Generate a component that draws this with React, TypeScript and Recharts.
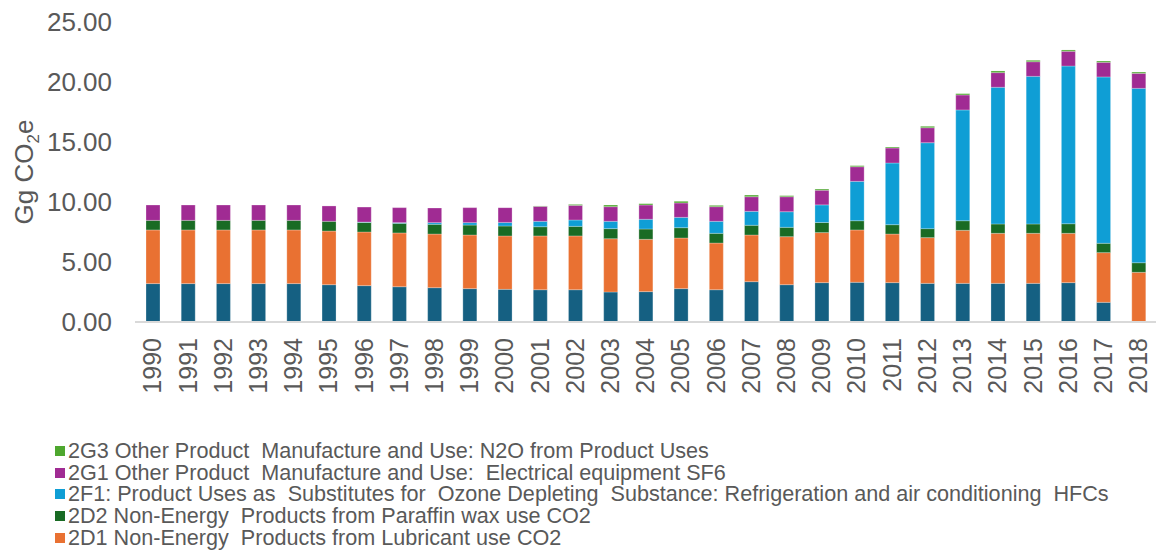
import { Bar, BarChart, XAxis, YAxis } from 'recharts';

const years = [
  '1990', '1991', '1992', '1993', '1994', '1995', '1996', '1997', '1998', '1999',
  '2000', '2001', '2002', '2003', '2004', '2005', '2006', '2007', '2008', '2009',
  '2010', '2011', '2012', '2013', '2014', '2015', '2016', '2017', '2018',
];

// bottom series (its legend entry is cut off in the original)
const otherUse = [
  3.2, 3.2, 3.2, 3.2, 3.2, 3.11, 3.03, 2.94, 2.86, 2.78,
  2.72, 2.69, 2.69, 2.5, 2.53, 2.78, 2.69, 3.36, 3.11, 3.28,
  3.31, 3.28, 3.22, 3.22, 3.22, 3.22, 3.28, 1.64, 0,
];
const lubricant = [
  4.47, 4.47, 4.47, 4.47, 4.47, 4.47, 4.47, 4.48, 4.47, 4.47,
  4.45, 4.48, 4.48, 4.44, 4.36, 4.22, 3.89, 3.89, 4.0, 4.17,
  4.36, 4.05, 3.81, 4.42, 4.17, 4.17, 4.11, 4.14, 4.14,
];
const paraffin = [
  0.8, 0.8, 0.8, 0.8, 0.8, 0.81, 0.8, 0.8, 0.81, 0.83,
  0.83, 0.77, 0.8, 0.84, 0.86, 0.86, 0.81, 0.81, 0.78, 0.84,
  0.77, 0.78, 0.75, 0.8, 0.78, 0.78, 0.8, 0.78, 0.8,
];
const hfcs = [
  0, 0, 0, 0, 0, 0, 0.03, 0.06, 0.14, 0.2,
  0.3, 0.45, 0.53, 0.61, 0.81, 0.86, 1.0, 1.16, 1.3, 1.47,
  3.28, 5.14, 7.16, 9.23, 11.39, 12.3, 13.14, 13.86, 14.53,
];
const sf6 = [
  1.28, 1.28, 1.28, 1.28, 1.28, 1.28, 1.25, 1.25, 1.22, 1.25,
  1.23, 1.25, 1.22, 1.22, 1.19, 1.2, 1.22, 1.22, 1.25, 1.22,
  1.22, 1.25, 1.25, 1.25, 1.22, 1.22, 1.23, 1.22, 1.25,
];
const n2o = [
  0, 0, 0, 0, 0, 0, 0, 0, 0, 0,
  0, 0.03, 0.08, 0.14, 0.11, 0.14, 0.11, 0.14, 0.09, 0.1,
  0.09, 0.08, 0.12, 0.11, 0.14, 0.12, 0.11, 0.11, 0.11,
];

const yTicks = [0, 5, 10, 15, 20, 25];

const series = [
  { key: 'other', name: 'Other', color: '#156082', legend: false },
  { key: 'lubricant', name: '2D1 Non-Energy  Products from Lubricant use CO2', color: '#E97132', legend: true },
  { key: 'paraffin', name: '2D2 Non-Energy  Products from Paraffin wax use CO2', color: '#196B24', legend: true },
  { key: 'hfcs', name: '2F1: Product Uses as  Substitutes for  Ozone Depleting  Substance: Refrigeration and air conditioning  HFCs', color: '#0F9ED5', legend: true },
  { key: 'sf6', name: '2G1 Other Product  Manufacture and Use:  Electrical equipment SF6', color: '#A02B93', legend: true },
  { key: 'n2o', name: '2G3 Other Product  Manufacture and Use: N2O from Product Uses', color: '#4EA72E', legend: true },
];

const data = years.map((year, i) => ({
  year,
  other: otherUse[i],
  lubricant: lubricant[i],
  paraffin: paraffin[i],
  hfcs: hfcs[i],
  sf6: sf6[i],
  n2o: n2o[i],
}));

const font = '"Liberation Sans", Arial, sans-serif';
const textColor = '#595959';

const YearTick = (props: any) => {
  const { x, payload } = props;
  return (
    <text
      x={x}
      y={338}
      transform={`rotate(-90, ${x}, 338)`}
      textAnchor="end"
      dy="0.35em"
      fill={textColor}
      fontSize={25}
      fontFamily={font}
    >
      {payload.value}
    </text>
  );
};

const YLabel = (props: any) => {
  const vb = props.viewBox || { x: 0, y: 22, height: 300 };
  const cx = 33;
  const cy = vb.y + vb.height / 2;
  return (
    <text
      x={cx}
      y={cy}
      transform={`rotate(-90, ${cx}, ${cy})`}
      textAnchor="middle"
      fill={textColor}
      fontSize={26}
      fontFamily={font}
    >
      Gg CO
      <tspan fontSize={17} dy={6}>2</tspan>
      <tspan dy={-6}>e</tspan>
    </text>
  );
};

export default function App() {
  const legendItems = series.filter((s) => s.legend).slice().reverse();
  return (
    <div style={{ position: 'absolute', left: 0, top: 0, width: 1158, height: 555, background: '#fff' }}>
      <BarChart
        width={1158}
        height={555}
        data={data}
        margin={{ top: 22, right: 2, left: 0, bottom: 0 }}
      >
        <XAxis
          dataKey="year"
          height={233}
          interval={0}
          tickLine={false}
          axisLine={{ stroke: '#d9d9d9', strokeWidth: 2 }}
          tick={<YearTick />}
        />
        <YAxis
          width={135}
          domain={[0, 25]}
          ticks={yTicks}
          axisLine={false}
          tickLine={false}
          tickMargin={17}
          tickFormatter={(v: number) => v.toFixed(2)}
          tick={{ fill: textColor, fontSize: 26, fontFamily: font }}
          label={<YLabel />}
        />
        {series.map((s) => (
          <Bar
            key={s.key}
            dataKey={s.key}
            name={s.name}
            stackId="a"
            fill={s.color}
            barSize={14}
            stroke="#ffffff"
            strokeOpacity={0.35}
            strokeWidth={0.75}
            isAnimationActive={false}
          />
        ))}
      </BarChart>
      <div
        style={{
          position: 'absolute',
          left: 55,
          top: 440,
          fontFamily: font,
          fontSize: 21.6,
          color: textColor,
          lineHeight: '21.7px',
        }}
      >
        {legendItems.map((s) => (
          <div key={s.key} style={{ display: 'flex', alignItems: 'center', whiteSpace: 'pre' }}>
            <span style={{ display: 'inline-block', width: 10, height: 10, background: s.color, marginRight: 3 }} />
            <span>{s.name}</span>
          </div>
        ))}
      </div>
    </div>
  );
}
